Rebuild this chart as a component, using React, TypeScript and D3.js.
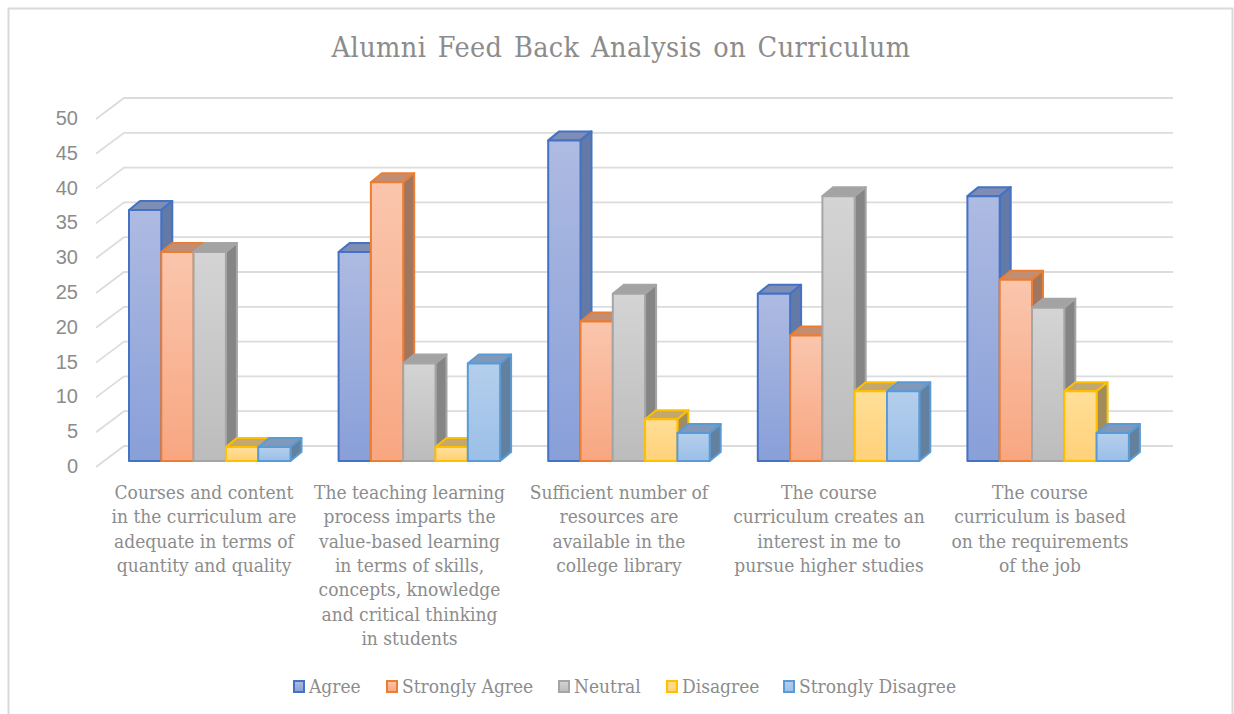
import React from "react";
import * as d3 from "d3";

const title = "Alumni Feed Back Analysis on Curriculum";
const seriesNames = ["Agree", "Strongly Agree", "Neutral", "Disagree", "Strongly Disagree"];
const categories = ["c1", "c2", "c3", "c4", "c5"];
const categoryLines = [
  ["Courses and content", "in the curriculum are", "adequate in terms of", "quantity and quality"],
  ["The teaching learning", "process imparts the", "value-based learning", "in terms of skills,", "concepts, knowledge", "and critical thinking", "in students"],
  ["Sufficient number of", "resources are", "available in the", "college library"],
  ["The course", "curriculum creates an", "interest in me to", "pursue higher studies"],
  ["The course", "curriculum is based", "on the requirements", "of the job"],
];
const agree = [36, 30, 46, 24, 38];
const stronglyAgree = [30, 40, 20, 18, 26];
const neutral = [30, 14, 24, 38, 22];
const disagree = [2, 2, 6, 10, 10];
const stronglyDisagree = [2, 14, 4, 10, 4];
const seriesValues = [agree, stronglyAgree, neutral, disagree, stronglyDisagree];
const ticks = [0, 5, 10, 15, 20, 25, 30, 35, 40, 45, 50];

const strokes = ["#4472c4", "#ed7d31", "#a5a5a5", "#ffc000", "#5b9bd5"];
const gradTop = ["#aebbe2", "#fac6ad", "#d4d4d4", "#ffdf98", "#b5cfec"];
const gradBottom = ["#889fd8", "#f8a681", "#bcbcbc", "#ffd179", "#9bbfe8"];
const topFill = ["#7d8db5", "#c18e74", "#a3a3a3", "#c2a86e", "#8198b8"];
const sideFill = ["#647aa6", "#a0765f", "#858585", "#a38c5c", "#64809f"];
const legendX = [293, 386, 558, 666, 783];
const labelCenter = [204, 409.5, 619, 829, 1040];

const FONT = "'DejaVu Serif Condensed', 'DejaVu Serif', serif";
const TEXT = "#8c8c8c";

export default function App() {
  const x = d3.scaleLinear().domain([0, 5]).range([129, 129 + 209.6 * 5]);
  const barW = 32.3;
  const y = d3.scaleLinear().domain([0, 50]).range([461, 112.5]);
  const wall = d3.scaleLinear().domain([0, 50]).range([467, 119]);
  const dx = 11, dy = -9;
  const wallDx = 28, wallDy = -21;
  const rightEnd = 1173;
  return (
    <svg width={1234} height={714} style={{ position: "absolute", left: 0, top: 0, background: "#fff" }}>
      <defs>
        {strokes.map((_, i) => (
          <linearGradient key={i} id={`g${i}`} x1="0" x2="0" y1="0" y2="1">
            <stop offset="0" stopColor={gradTop[i]} />
            <stop offset="1" stopColor={gradBottom[i]} />
          </linearGradient>
        ))}
      </defs>
      <path d="M8.5 716V8.5H1232.5V716" fill="none" stroke="#d9d9d9" strokeWidth={2} />
      <text x={621} y={57} textAnchor="middle" fontFamily={FONT} fontSize={28.5} fill={TEXT} letterSpacing={0.4} wordSpacing={3}>{title}</text>
      {ticks.map((t) => {
        const wy = wall(t);
        return (
          <g key={t}>
            <path d={`M${96} ${wy}L${96 + wallDx} ${wy + wallDy}H${rightEnd}`} fill="none" stroke="#dcdcdc" strokeWidth={1.8} />
            <text x={78} y={wy + 6} textAnchor="end" fontFamily="'Liberation Sans', sans-serif" fontSize={20} fill={TEXT}>{t}</text>
          </g>
        );
      })}
      {categories.map((c, ci) => (
        <g key={c}>
          {seriesValues.map((vals, si) => {
            const x0 = x(ci) + si * barW;
            const x1 = x0 + barW;
            const yt = y(vals[ci]);
            const yb = y(0);
            return (
              <g key={si} stroke={strokes[si]} strokeWidth={2} strokeLinejoin="round">
                <path d={`M${x0} ${yt}l${dx} ${dy}h${barW}l${-dx} ${-dy}z`} fill={topFill[si]} />
                <path d={`M${x1} ${yt}l${dx} ${dy}V${yb + dy}l${-dx} ${-dy}z`} fill={sideFill[si]} />
                <rect x={x0} y={yt} width={barW} height={yb - yt} fill={`url(#g${si})`} />
              </g>
            );
          })}
          <text textAnchor="middle" fontFamily={FONT} fontSize={19} fill={TEXT}>
            {categoryLines[ci].map((ln, li) => (
              <tspan key={li} x={labelCenter[ci]} y={499 + li * 24.3}>{ln}</tspan>
            ))}
          </text>
        </g>
      ))}
      {seriesNames.map((n, i) => (
        <g key={n}>
          <rect x={legendX[i] + 1} y={681} width={10} height={11} fill={`url(#g${i})`} stroke={strokes[i]} strokeWidth={2} />
          <text x={legendX[i] + 16} y={693} fontFamily={FONT} fontSize={19} fill={TEXT}>{n}</text>
        </g>
      ))}
    </svg>
  );
}
